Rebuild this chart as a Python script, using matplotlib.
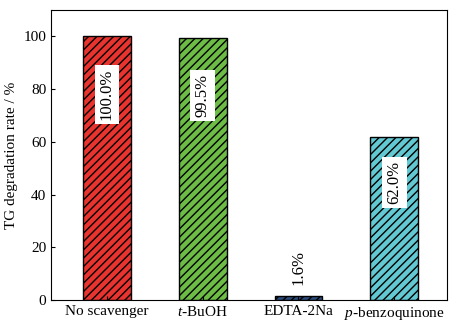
import matplotlib
matplotlib.use("Agg")
import matplotlib.pyplot as plt

# ── Dados ────────────────────────────────────────────────────────────────────
categories = ["No scavenger", "$t$-BuOH", "EDTA-2Na", "$p$-benzoquinone"]
values = [100.0, 99.5, 1.6, 62.0]
labels = ["100.0%", "99.5%", "1.6%", "62.0%"]
label_y = [78, 77.5, 12.5, 44.5]
colors = ["#e8332f", "#6cbc45", "#2b4c7d", "#62c8d1"]

plt.rcParams["font.family"] = ["Liberation Serif", "DejaVu Serif"]
plt.rcParams["mathtext.fontset"] = "custom"
plt.rcParams["mathtext.it"] = "Liberation Serif:italic"
plt.rcParams["mathtext.rm"] = "Liberation Serif"
plt.rcParams["hatch.linewidth"] = 1.0

fig, ax = plt.subplots(figsize=(4.6, 3.32), dpi=100)
fig.subplots_adjust(left=0.111, right=0.972, top=0.97, bottom=0.096)

x = range(len(categories))
ax.bar(x, values, width=0.5, color=colors, edgecolor="black",
       linewidth=1.0, hatch="////")

# rótulos verticais com caixa branca dentro das barras altas
for i, (txt, y, v) in enumerate(zip(labels, label_y, values)):
    box = None
    if v > 10:
        box = dict(facecolor="white", edgecolor="none", pad=3)
    ax.text(i, y, txt, rotation=90, ha="center", va="center",
            fontsize=12, bbox=box)

ax.set_xlim(-0.58, 3.55)
ax.set_ylim(0, 110)
ax.set_yticks([0, 20, 40, 60, 80, 100])
ax.set_xticks(list(x))
ax.set_xticklabels(categories)
ax.tick_params(direction="in", labelsize=11, length=3)
ax.set_ylabel("TG degradation rate / %", fontsize=11)

plt.savefig("out.png", dpi=100)
